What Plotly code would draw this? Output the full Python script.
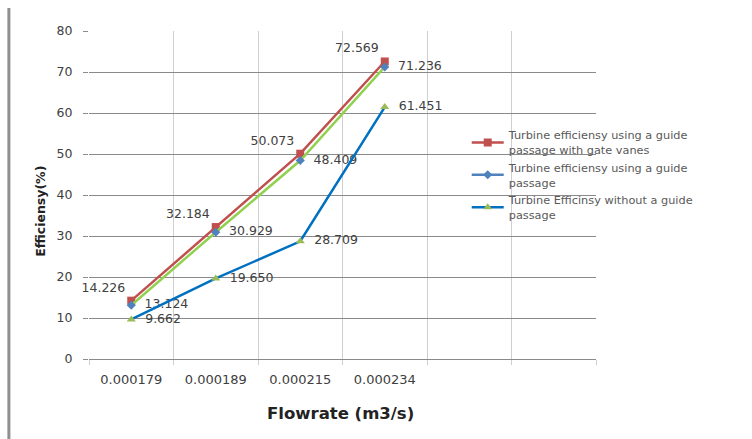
import plotly.graph_objects as go

# Flow rates (m3/s) shown as category labels
flowrates = ["0.000179", "0.000189", "0.000215", "0.000234"]
n_slots = 6  # category slots on the x axis (last two left empty)

# Turbine efficiency (%) for each configuration
eff_gate_vanes = [14.226, 32.184, 50.073, 72.569]
eff_guide = [13.124, 30.929, 48.409, 71.236]
eff_no_guide = [9.662, 19.650, 28.709, 61.451]

name_gate = "Turbine efficiensy using a guide<br>passage with gate vanes"
name_guide = "Turbine efficiensy using a guide<br>passage"
name_none = "Turbine Efficinsy without a guide<br>passage"

RED = "#C0504D"
BLUE_LIGHT = "#4F81BD"
BLUE = "#0070C0"
GREEN = "#92D050"
TRI_GREEN = "#9BBB59"

xs = list(range(len(flowrates)))
label_font = dict(family="DejaVu Sans", size=12.5, color="#404040")
PAD = "\u00a0\u00a0"

fig = go.Figure()

fig.add_trace(go.Scatter(
    x=xs, y=eff_gate_vanes, name=name_gate, mode="lines+markers+text",
    line=dict(color=RED, width=2.5),
    marker=dict(symbol="square", size=8, color=RED),
    text=[f"{v:.3f}" for v in eff_gate_vanes], textposition="top left",
    textfont=label_font, legendrank=1, cliponaxis=False,
))

# legend entry for the guide-passage series
fig.add_trace(go.Scatter(
    x=[None], y=[None], name=name_guide, mode="lines+markers",
    line=dict(color=BLUE_LIGHT, width=2.5),
    marker=dict(symbol="diamond", size=7, color=BLUE_LIGHT),
    legendrank=2,
))

fig.add_trace(go.Scatter(
    x=xs, y=eff_guide, name=name_guide, mode="lines+markers+text",
    line=dict(color=GREEN, width=2.5),
    marker=dict(symbol="diamond", size=7, color=BLUE_LIGHT),
    text=[PAD + f"{v:.3f}" for v in eff_guide], textposition="middle right",
    textfont=label_font, showlegend=False, cliponaxis=False,
))

fig.add_trace(go.Scatter(
    x=xs, y=eff_no_guide, name=name_none, mode="lines+markers+text",
    line=dict(color=BLUE, width=2.5),
    marker=dict(symbol="triangle-up", size=8, color=TRI_GREEN),
    text=[PAD + f"{v:.3f}" for v in eff_no_guide], textposition="middle right",
    textfont=label_font, legendrank=3, cliponaxis=False,
))

boundaries = [i - 0.5 for i in range(n_slots + 1)]

fig.update_layout(
    width=752, height=439,
    margin=dict(l=89, r=156, t=31, b=80),
    paper_bgcolor="white", plot_bgcolor="white",
    font=dict(family="DejaVu Sans", color="#333333"),
    showlegend=True,
    legend=dict(
        x=0.745, y=0.725, xanchor="left", yanchor="top",
        bgcolor="rgba(0,0,0,0)", borderwidth=0,
        font=dict(family="DejaVu Sans", size=11.3, color="#595959"),
        tracegroupgap=0, itemwidth=32,
    ),
    xaxis=dict(
        range=[-0.5, n_slots - 0.5],
        tickmode="array", tickvals=xs, ticktext=flowrates,
        ticks="", showgrid=False, zeroline=False,
        showline=False,
        tickfont=dict(family="DejaVu Sans", size=13, color="#404040"),
        ticklabelstandoff=11,
        minor=dict(
            tickmode="array", tickvals=boundaries,
            showgrid=True, gridcolor="#cfcfcf", gridwidth=1,
            ticks="outside", ticklen=5, tickcolor="#cfcfcf",
        ),
    ),
    yaxis=dict(
        range=[0, 80], dtick=10, tick0=0,
        showgrid=True, gridcolor="#8a8a8a", gridwidth=1,
        zeroline=True, zerolinecolor="#8a8a8a", zerolinewidth=1,
        ticks="outside", ticklen=5, tickcolor="#8a8a8a",
        tickfont=dict(family="DejaVu Sans", size=12.5, color="#404040"),
        ticklabelstandoff=8,
    ),
    annotations=[
        dict(text="<b>Flowrate (m3/s)</b>", xref="paper", yref="paper",
             x=0.497, y=-0.165, xanchor="center", yanchor="middle",
             showarrow=False,
             font=dict(family="DejaVu Sans", size=16.5, color="#222222")),
        dict(text="<b>Efficiensy(%)</b>", xref="paper", yref="paper",
             x=-0.096, y=0.45, xanchor="center", yanchor="middle",
             textangle=-90, showarrow=False,
             font=dict(family="DejaVu Sans", size=12.5, color="#222222")),
    ],
    shapes=[
        dict(type="line", xref="paper", yref="paper",
             x0=-0.158, x1=-0.158, y0=-0.245, y1=1.07,
             line=dict(color="#8f8f8f", width=3)),
    ],
)

fig.write_html("out.html")
